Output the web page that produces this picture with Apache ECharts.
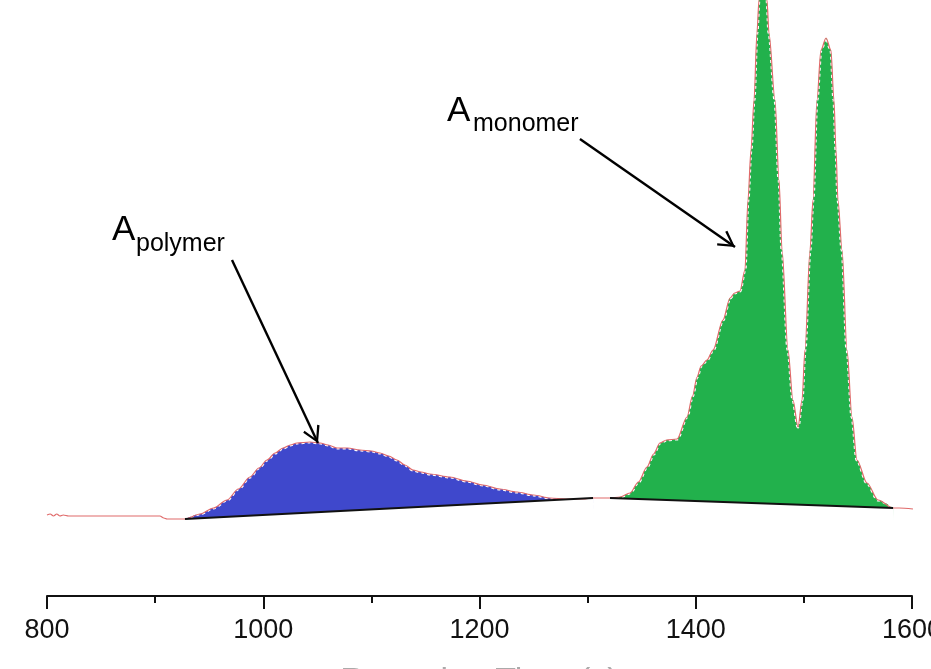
<!DOCTYPE html>
<html>
<head>
<meta charset="utf-8">
<title>Chromatogram</title>
<script src="https://cdn.jsdelivr.net/npm/echarts@6/dist/echarts.min.js"></script>
<style>
  html, body { margin: 0; padding: 0; background: #fff; }
  #chart { width: 931px; height: 669px; }
</style>
</head>
<body>
<div id="chart"></div>
<script>
// retention time (s) ticks
const xTicks = [800, 1000, 1200, 1400, 1600]

// detector signal, [time, signal]
const leftTrace = [
  [800, 81], [803, 82], [806, 80], [809, 82], [812, 80], [815, 81], [820, 80],
  [850, 80], [880, 80], [904.5, 80], [908, 78], [911, 77]
]
const polymerTrace = [
  [927.6, 77], [941.5, 82], [954, 88], [966.5, 96], [977, 107], [987.7, 119],
  [996, 128], [1003.5, 136], [1011, 143], [1018.3, 148], [1025, 151], [1031.2, 153],
  [1043.2, 154], [1052.5, 153], [1060, 151], [1068.2, 148], [1078, 148], [1089.5, 146],
  [1100, 145], [1108, 143], [1116, 140], [1123.7, 136], [1131, 131], [1138.5, 126],
  [1146, 124], [1154.2, 122], [1172.7, 119], [1188, 115], [1203.2, 111], [1219, 107],
  [1234.7, 104], [1250, 101], [1265.2, 98], [1280, 97], [1295.7, 97], [1305, 98]
]
const gapTrace = [[1313, 98]]
const monomerTrace = [
  [1320.7, 98], [1329.9, 99], [1339.2, 103], [1347, 114], [1354.9, 129], [1361, 142],
  [1366.9, 153], [1373, 156], [1382.7, 157], [1391.9, 179], [1397, 200], [1401.2, 219],
  [1405, 230], [1410.4, 236], [1416, 246], [1425.2, 276], [1431.7, 298], [1436, 303],
  [1440.9, 305], [1445.5, 326], [1448.3, 396], [1451.1, 446], [1453.9, 496], [1456.6, 563],
  [1458.5, 596], [1462.2, 620], [1465.9, 596], [1467.7, 563], [1473.3, 496], [1477, 416],
  [1479.8, 346], [1485.3, 246], [1489.9, 196], [1494.6, 169], [1498.3, 196], [1501, 246],
  [1505.7, 346], [1508.4, 396], [1512.1, 496], [1515.8, 546], [1520.5, 558], [1525, 546],
  [1527.8, 496], [1529.7, 446], [1531.5, 396], [1535.3, 346], [1539.9, 246], [1544.5, 179],
  [1549.1, 136], [1558.4, 113], [1568.6, 96], [1582.5, 88]
]
const rightTrace = [[1588, 88], [1600.9, 87]]

// integration baselines
const polymerBase = [[927.6, 77], [1305, 98]]
const monomerBase = [[1320.7, 98], [1582.5, 88]]

// annotation arrows, [start, tip]
const polymerArrow = [[971.1, 336], [1050.6, 153]]
const monomerArrow = [[1292.9, 457], [1436.3, 349]]

const trace = [].concat(leftTrace, polymerTrace, gapTrace, monomerTrace, rightTrace)

// open arrow head pointing up, tip at the centre of its box
const arrowHead = 'path://M0,0L9,15.5L7,16.8L0,4.2L-7,16.8L-9,15.5ZM0,-16.8L0.01,-16.8L0,-16.7Z'

const chart = echarts.init(document.getElementById('chart'))

const areaSeries = (name, data, color) => ({
  name: name,
  type: 'line',
  data: data,
  smooth: 0.3,
  smoothMonotone: 'x',
  symbol: 'none',
  z: 2,
  lineStyle: { color: '#ffffff', width: 3, type: [3, 3] },
  areaStyle: { color: color, opacity: 1, origin: 70 }
})

// white cover under a baseline, a little wider than the fill on each side
const maskSeries = (data) => ({
  type: 'line',
  data: [[data[0][0] - 1.5, data[0][1]]].concat(data, [[data[1][0] + 1.5, data[1][1]]]),
  symbol: 'none',
  z: 3,
  lineStyle: { width: 0, opacity: 0 },
  areaStyle: { color: '#ffffff', opacity: 1, origin: 68 }
})

const baseSeries = (data, arrow) => ({
  type: 'line',
  data: data,
  symbol: 'none',
  z: 5,
  lineStyle: { color: '#111111', width: 1.8 },
  markLine: {
    silent: true,
    symbol: ['none', arrowHead],
    symbolSize: [18, 33.6],
    label: { show: false },
    lineStyle: { color: '#000000', width: 2.4, type: 'solid' },
    data: [[{ coord: arrow[0] }, { coord: arrow[1] }]]
  }
})

const option = {
  backgroundColor: '#ffffff',
  animation: false,
  grid: { left: 47, right: 19, top: 0, bottom: 73, outerBoundsMode: 'none', containLabel: false },
  xAxis: {
    type: 'value',
    min: xTicks[0],
    max: xTicks[xTicks.length - 1],
    interval: 200,
    name: 'Retention Time (s)',
    nameLocation: 'middle',
    nameGap: 69,
    nameTextStyle: { fontFamily: 'Liberation Sans', fontSize: 34, color: '#aaaaaa' },
    axisLine: { lineStyle: { color: '#111111', width: 2 } },
    axisTick: { length: 13, lineStyle: { color: '#111111', width: 2 } },
    minorTick: { show: true, splitNumber: 2, length: 7, lineStyle: { color: '#111111', width: 2 } },
    splitLine: { show: false },
    axisLabel: {
      margin: 21,
      fontFamily: 'Liberation Sans',
      fontSize: 27,
      color: '#111111',
      formatter: (v) => String(v)
    }
  },
  yAxis: { type: 'value', min: 0, max: 596, show: false },
  graphic: [
    { type: 'text', left: 112, top: 213, style: { text: 'A', font: '35px "Liberation Sans"', fill: '#000' } },
    { type: 'text', left: 136, top: 232, style: { text: 'polymer', font: '25px "Liberation Sans"', fill: '#000' } },
    { type: 'text', left: 447, top: 94, style: { text: 'A', font: '35px "Liberation Sans"', fill: '#000' } },
    { type: 'text', left: 473, top: 112, style: { text: 'monomer', font: '25px "Liberation Sans"', fill: '#000' } }
  ],
  series: [
    areaSeries('polymer', polymerTrace, '#3f48cc'),
    areaSeries('monomer', monomerTrace, '#22b14c'),
    maskSeries(polymerBase),
    maskSeries(monomerBase),
    {
      name: 'signal',
      type: 'line',
      data: trace,
      smooth: 0.3,
      smoothMonotone: 'x',
      symbol: 'none',
      z: 4,
      lineStyle: { color: '#e06a6a', width: 1.2 }
    },
    baseSeries(polymerBase, polymerArrow),
    baseSeries(monomerBase, monomerArrow)
  ]
}

chart.setOption(option)
</script>
</body>
</html>
